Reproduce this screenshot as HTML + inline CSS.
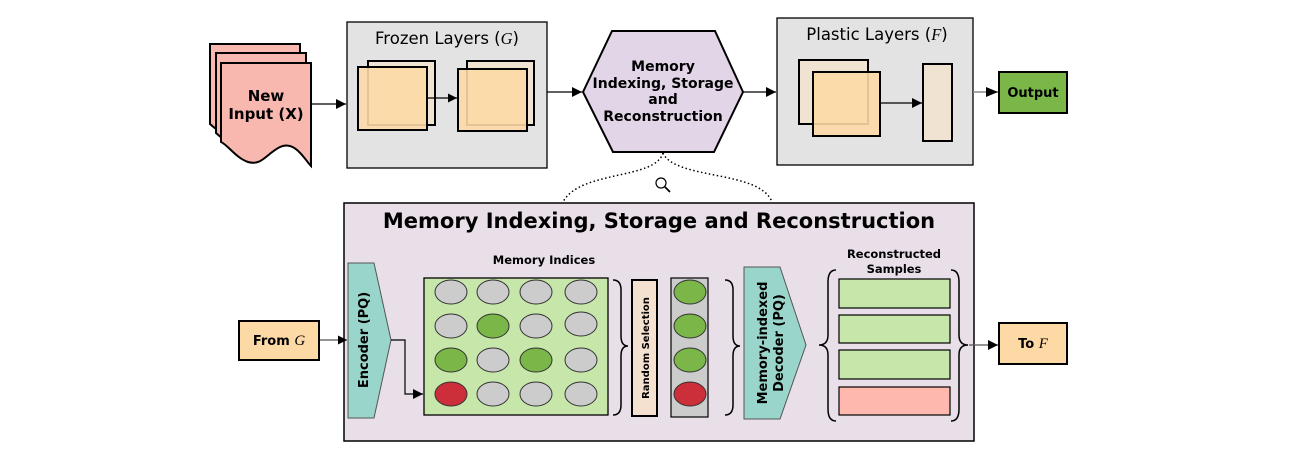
<!DOCTYPE html>
<html><head><meta charset="utf-8"><style>
html,body{margin:0;padding:0;background:#fff;}
svg{display:block;}
text{font-family:"DejaVu Sans","Liberation Sans",sans-serif;}
.b{font-weight:bold;}
.m{font-family:"Liberation Serif",serif;font-style:italic;}
</style></head><body>
<svg width="1290" height="458" viewBox="0 0 1290 458" xmlns="http://www.w3.org/2000/svg">
<defs>
<marker id="ah" viewBox="0 0 10 10" refX="10" refY="5" markerWidth="9" markerHeight="9" markerUnits="userSpaceOnUse" orient="auto"><path d="M0,0 L10,5 L0,10 z" fill="#000"/></marker>
<marker id="ah2" viewBox="0 0 10 10" refX="10" refY="5" markerWidth="12" markerHeight="10" markerUnits="userSpaceOnUse" orient="auto"><path d="M0,0 L10,5 L0,10 z" fill="#000"/></marker>
</defs>

<!-- New Input documents -->
<g stroke="#000" stroke-width="2" fill="#f8b8b0">
<path d="M210,44 H300 V146 C295,140 285,128 270,136 C255,150 240,150 210,124 Z"/>
<path d="M216,53 H306 V156 C301,150 291,138 276,146 C261,160 246,160 216,133 Z"/>
<path d="M221,63 H311 V166 C305,160 295,140 280,147 C266,154 262,166 248,162 C236,158 228,145 221,142 Z"/>
</g>
<text x="266" y="101" font-size="15" class="b" text-anchor="middle">New</text>
<text x="266" y="119" font-size="15" class="b" text-anchor="middle">Input (X)</text>
<line x1="311" y1="104" x2="346" y2="104" stroke="#000" stroke-width="1.3" marker-end="url(#ah2)"/>

<!-- Frozen layers -->
<rect x="347" y="22" width="200" height="146" fill="#e3e3e3" stroke="#000" stroke-width="1.3"/>
<text x="447" y="44" font-size="16.5" text-anchor="middle">Frozen Layers (<tspan class="m">G</tspan>)</text>
<rect x="368" y="61" width="67" height="64" fill="#f1e3d2" stroke="#000" stroke-width="2"/>
<rect x="358" y="67" width="69" height="63" fill="#fdd9a6" fill-opacity="0.9" stroke="#000" stroke-width="2"/>
<rect x="467" y="61" width="67" height="64" fill="#f1e3d2" stroke="#000" stroke-width="2"/>
<rect x="458" y="69" width="69" height="62" fill="#fdd9a6" fill-opacity="0.9" stroke="#000" stroke-width="2"/>
<line x1="427" y1="98" x2="457" y2="98" stroke="#000" stroke-width="1.2" marker-end="url(#ah)"/>
<line x1="547" y1="92" x2="582" y2="92" stroke="#000" stroke-width="1.3" marker-end="url(#ah2)"/>

<!-- Hexagon -->
<polygon points="583,92 612,31 715,31 743,92 714,152 613,152" fill="#e1d5e7" stroke="#000" stroke-width="2"/>
<g font-size="14" class="b" text-anchor="middle">
<text x="663" y="71">Memory</text>
<text x="663" y="88">Indexing, Storage</text>
<text x="663" y="104">and</text>
<text x="663" y="121">Reconstruction</text>
</g>
<line x1="743" y1="92" x2="776" y2="92" stroke="#000" stroke-width="1.3" marker-end="url(#ah2)"/>

<!-- Plastic -->
<rect x="777" y="18" width="196" height="147" fill="#e3e3e3" stroke="#000" stroke-width="1.3"/>
<text x="877" y="40" font-size="16.5" text-anchor="middle">Plastic Layers (<tspan class="m">F</tspan>)</text>
<rect x="799" y="60" width="69" height="64" fill="#f1e3d2" stroke="#000" stroke-width="2"/>
<rect x="813" y="72" width="67" height="64" fill="#fdd9a6" fill-opacity="0.9" stroke="#000" stroke-width="2"/>
<rect x="923" y="64" width="29" height="77" fill="#f1e3d2" stroke="#000" stroke-width="2"/>
<line x1="880" y1="103" x2="922" y2="103" stroke="#000" stroke-width="1.2" marker-end="url(#ah2)"/>
<line x1="973" y1="92" x2="998" y2="92" stroke="#888" stroke-width="1.5"/>
<path d="M986,87 L998,92 L986,97 z" fill="#000"/>
<rect x="999" y="72" width="68" height="41" fill="#7ab648" stroke="#000" stroke-width="2"/>
<text x="1033" y="97" font-size="13" class="b" text-anchor="middle">Output</text>

<!-- dotted zoom lines -->
<g fill="none" stroke="#000" stroke-width="1.5" stroke-dasharray="1.5,2.5">
<path d="M663,153 C655,180 580,170 563,202"/>
<path d="M663,153 C675,180 760,170 772,202"/>
</g>
<circle cx="661" cy="183" r="5" fill="none" stroke="#000" stroke-width="1.2"/>
<line x1="665" y1="187" x2="670" y2="192" stroke="#000" stroke-width="1.8"/>

<!-- Lower panel -->
<rect x="344" y="203" width="630" height="238" fill="#e9dfe9" stroke="#000" stroke-width="1.5"/>
<text x="659" y="228" font-size="21" class="b" text-anchor="middle">Memory Indexing, Storage and Reconstruction</text>

<rect x="239" y="321" width="80" height="39" fill="#fdd9a6" stroke="#000" stroke-width="2"/>
<text x="279" y="345" font-size="13" class="b" text-anchor="middle">From <tspan class="m" font-weight="normal" font-size="15">G</tspan></text>
<line x1="320" y1="340" x2="347" y2="340" stroke="#555" stroke-width="1.2" marker-end="url(#ah)"/>

<polygon points="348,263 374,263 391,340 374,418 348,418" fill="#99d5ca" stroke="#555" stroke-width="1"/>
<text transform="translate(368,340) rotate(-90)" font-size="13" class="b" text-anchor="middle">Encoder (PQ)</text>
<polyline points="391,340 405,340 405,394 423,394" fill="none" stroke="#000" stroke-width="1.2" marker-end="url(#ah2)"/>

<text x="544" y="264" font-size="11.5" class="b" text-anchor="middle">Memory Indices</text>
<rect x="424" y="278" width="184" height="137" fill="#c6e6aa" stroke="#000" stroke-width="1.3"/>
<g stroke="#333" stroke-width="1">
<ellipse cx="451" cy="292" rx="16" ry="12" fill="#cccccc"/>
<ellipse cx="493" cy="292" rx="16" ry="12" fill="#cccccc"/>
<ellipse cx="536" cy="292" rx="16" ry="12" fill="#cccccc"/>
<ellipse cx="581" cy="292" rx="16" ry="12" fill="#cccccc"/>
<ellipse cx="451" cy="326" rx="16" ry="12" fill="#cccccc"/>
<ellipse cx="493" cy="326" rx="16" ry="12" fill="#7ab648"/>
<ellipse cx="536" cy="326" rx="16" ry="12" fill="#cccccc"/>
<ellipse cx="581" cy="324" rx="16" ry="12" fill="#cccccc"/>
<ellipse cx="451" cy="360" rx="16" ry="12" fill="#7ab648"/>
<ellipse cx="493" cy="360" rx="16" ry="12" fill="#cccccc"/>
<ellipse cx="536" cy="360" rx="16" ry="12" fill="#7ab648"/>
<ellipse cx="581" cy="360" rx="16" ry="12" fill="#cccccc"/>
<ellipse cx="451" cy="394" rx="16" ry="12" fill="#cc2f3a"/>
<ellipse cx="493" cy="394" rx="16" ry="12" fill="#cccccc"/>
<ellipse cx="536" cy="394" rx="16" ry="12" fill="#cccccc"/>
<ellipse cx="581" cy="394" rx="16" ry="12" fill="#cccccc"/>
</g>
<g fill="none" stroke="#000" stroke-width="1.5">
<path d="M613,280 Q621,280 621,290 V336 Q621,346 628,346 Q621,346 621,356 V405 Q621,415 613,415"/>
<path d="M725,280 Q733,280 733,290 V336 Q733,346 740,346 Q733,346 733,356 V405 Q733,415 725,415"/>
</g>
<rect x="632" y="280" width="25" height="136" fill="#f5e1d0" stroke="#000" stroke-width="2"/>
<text transform="translate(649,348) rotate(-90)" font-size="10" class="b" text-anchor="middle">Random Selection</text>
<rect x="671" y="278" width="37" height="139" fill="#cccccc" stroke="#000" stroke-width="1.2"/>
<g stroke="#333" stroke-width="1">
<ellipse cx="690" cy="292" rx="16" ry="12" fill="#7ab648"/>
<ellipse cx="690" cy="326" rx="16" ry="12" fill="#7ab648"/>
<ellipse cx="690" cy="360" rx="16" ry="12" fill="#7ab648"/>
<ellipse cx="690" cy="394" rx="16" ry="12" fill="#cc2f3a"/>
</g>

<polygon points="744,267 780,267 806,345 780,419 744,419" fill="#99d5ca" stroke="#555" stroke-width="1"/>
<text transform="translate(767,343) rotate(-90)" font-size="13" class="b" text-anchor="middle">Memory-indexed</text>
<text transform="translate(783,343) rotate(-90)" font-size="13" class="b" text-anchor="middle">Decoder (PQ)</text>

<text x="894" y="258" font-size="11.5" class="b" text-anchor="middle">Reconstructed</text>
<text x="894" y="273" font-size="11.5" class="b" text-anchor="middle">Samples</text>
<g fill="none" stroke="#000" stroke-width="1.5">
<path d="M836,270 Q828,270 828,282 V335 Q828,345 819,345 Q828,345 828,355 V409 Q828,421 836,421"/>
<path d="M951,270 Q959,270 959,282 V335 Q959,345 968,345 Q959,345 959,355 V409 Q959,421 951,421"/>
</g>
<rect x="839" y="279" width="111" height="29" fill="#c6e6aa" stroke="#000" stroke-width="1.2"/>
<rect x="839" y="315" width="111" height="28" fill="#c6e6aa" stroke="#000" stroke-width="1.2"/>
<rect x="839" y="350" width="111" height="29" fill="#c6e6aa" stroke="#000" stroke-width="1.2"/>
<rect x="839" y="387" width="111" height="28" fill="#ffb8ad" stroke="#000" stroke-width="1.2"/>

<line x1="969" y1="345" x2="998" y2="345" stroke="#555" stroke-width="1.2" marker-end="url(#ah2)"/>
<rect x="999" y="323" width="68" height="41" fill="#fdd9a6" stroke="#000" stroke-width="2"/>
<text x="1033" y="348" font-size="13" class="b" text-anchor="middle">To <tspan class="m" font-weight="normal" font-size="15">F</tspan></text>
</svg>
</body></html>
